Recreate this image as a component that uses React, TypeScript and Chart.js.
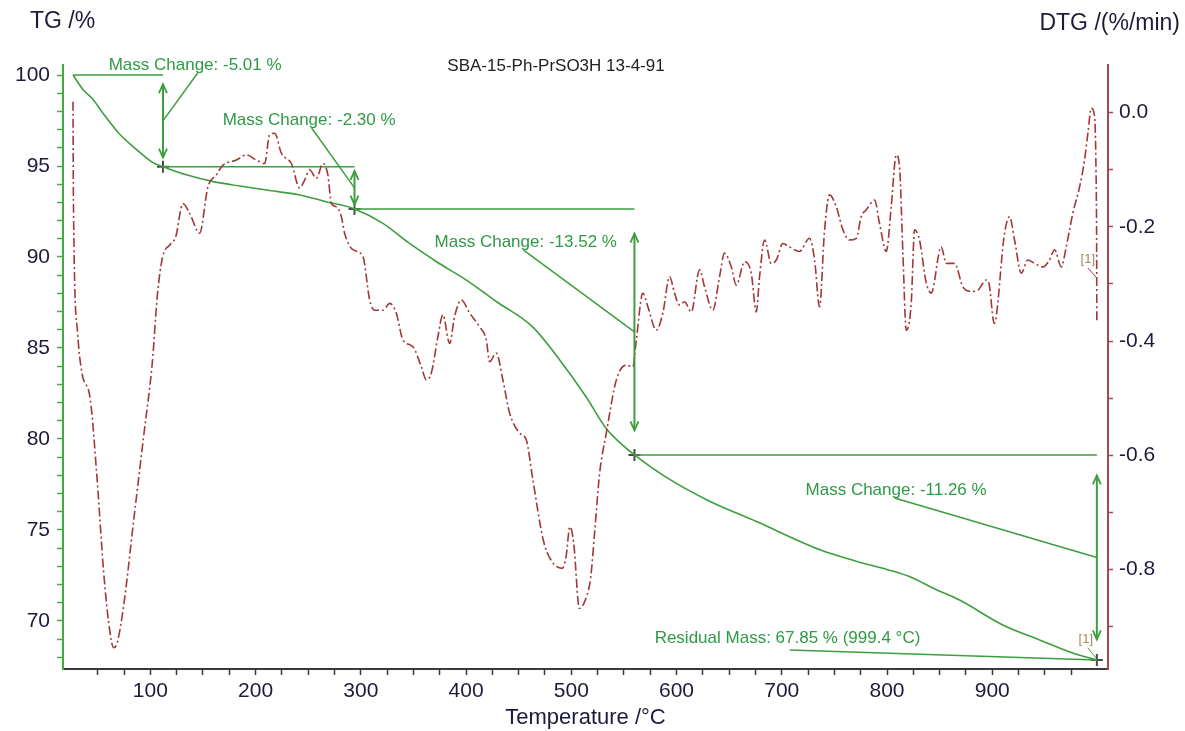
import React, { useEffect, useRef } from "react";
import { Chart, registerables } from "chart.js";

Chart.register(...registerables);

// ---------- data ----------
const tgTemp = [26.5, 36, 45, 55, 70, 87, 102, 112, 135, 160, 185, 210, 242, 267, 294, 321, 345, 372, 400, 429, 463, 489, 514, 533, 548, 560, 590, 629, 676, 737, 770, 805, 825, 844, 869, 910, 945, 977, 999.4];
const tgMass = [100, 99.2, 98.7, 97.9, 96.8, 95.9, 95.2, 94.96, 94.5, 94.14, 93.9, 93.68, 93.41, 93.04, 92.64, 91.85, 90.8, 89.74, 88.74, 87.54, 86.17, 84.34, 82.32, 80.59, 79.7, 79.12, 77.9, 76.65, 75.46, 73.9, 73.3, 72.75, 72.35, 71.8, 71.15, 69.78, 68.96, 68.23, 67.86];

const dtgTemp = [26.5, 26.9, 30.8, 34.9, 42.9, 49.3, 55.6, 60.4, 65.1, 68.4, 74.6, 84.1, 93.6, 101.9, 106.7, 111.5, 119.3, 124.0, 131.0, 137.3, 146.8, 154.7, 162.7, 169.0, 181.7, 191.2, 200.7, 208.6, 213.3, 218.1, 224.5, 234.0, 241.9, 246.6, 251.4, 257.7, 264.0, 268.7, 272.0, 276.7, 281.5, 284.6, 292.5, 302.0, 308.4, 313.1, 321.0, 327.4, 333.7, 340.0, 349.5, 357.5, 362.2, 367.0, 373.3, 378.0, 384.4, 389.1, 395.5, 403.4, 412.9, 419.2, 422.4, 428.7, 435.0, 441.4, 450.9, 457.2, 463.5, 473.3, 480.5, 491.4, 495.0, 498.7, 502.3, 507.7, 514.9, 518.5, 522.1, 526.9, 533.3, 542.8, 552.3, 558.5, 561.8, 568.0, 572.8, 580.8, 587.0, 593.4, 598.1, 602.9, 607.6, 614.0, 621.9, 626.6, 634.5, 640.9, 645.6, 652.0, 656.8, 664.7, 671.0, 675.8, 678.9, 683.7, 690.0, 694.8, 701.0, 707.4, 716.9, 726.4, 731.2, 735.9, 740.7, 745.4, 751.8, 758.1, 764.4, 770.8, 775.5, 780.3, 788.2, 792.9, 799.3, 804.0, 808.8, 811.9, 815.1, 818.3, 823.0, 826.2, 830.9, 837.3, 842.0, 851.5, 856.3, 864.2, 872.1, 880.0, 886.3, 894.3, 897.0, 901.9, 911.7, 916.5, 921.2, 927.6, 933.8, 940.2, 948.1, 954.4, 959.2, 965.6, 970.3, 976.6, 983.0, 987.7, 990.9, 994.1, 997.3, 998.6, 999.2, 999.4];
const dtgRate = [0.019, -0.153, -0.384, -0.455, -0.502, -0.639, -0.804, -0.893, -0.937, -0.929, -0.864, -0.715, -0.567, -0.437, -0.319, -0.254, -0.230, -0.218, -0.159, -0.176, -0.211, -0.130, -0.109, -0.092, -0.083, -0.074, -0.083, -0.089, -0.039, -0.036, -0.071, -0.089, -0.132, -0.118, -0.100, -0.115, -0.089, -0.109, -0.159, -0.165, -0.182, -0.211, -0.240, -0.252, -0.328, -0.346, -0.346, -0.334, -0.351, -0.398, -0.410, -0.445, -0.468, -0.456, -0.392, -0.354, -0.404, -0.357, -0.328, -0.351, -0.375, -0.398, -0.436, -0.421, -0.468, -0.526, -0.561, -0.573, -0.643, -0.748, -0.783, -0.798, -0.778, -0.725, -0.754, -0.868, -0.845, -0.813, -0.737, -0.632, -0.561, -0.468, -0.442, -0.445, -0.398, -0.316, -0.340, -0.381, -0.351, -0.287, -0.316, -0.337, -0.331, -0.349, -0.275, -0.305, -0.346, -0.287, -0.246, -0.270, -0.302, -0.261, -0.281, -0.349, -0.287, -0.223, -0.264, -0.258, -0.229, -0.235, -0.243, -0.220, -0.258, -0.340, -0.205, -0.144, -0.165, -0.205, -0.223, -0.220, -0.182, -0.170, -0.153, -0.194, -0.243, -0.165, -0.074, -0.095, -0.246, -0.381, -0.334, -0.205, -0.223, -0.298, -0.316, -0.235, -0.264, -0.264, -0.305, -0.313, -0.311, -0.293, -0.300, -0.369, -0.211, -0.182, -0.223, -0.281, -0.258, -0.264, -0.270, -0.258, -0.240, -0.270, -0.235, -0.176, -0.130, -0.083, -0.036, 0.008, -0.007, -0.100, -0.230, -0.368];

// mass-change steps (start, step ends)
const stepTemps = [26.5, 112, 294, 560, 999.4];
const stepLevels = [100, 94.96, 92.64, 79.12, 67.86];
const stepLabels = ["Mass Change: -5.01 %", "Mass Change: -2.30 %", "Mass Change: -13.52 %", "Mass Change: -11.26 %"];
const residualLabel = "Residual Mass: 67.85 % (999.4 °C)";
const sampleName = "SBA-15-Ph-PrSO3H 13-4-91";
const tgAxisTitle = "TG /%";
const dtgAxisTitle = "DTG /(%/min)";
const xAxisTitle = "Temperature /°C";

// label anchors (temperature, TG value) for the annotation texts
const labelAnchorT = [60.4, 168.7, 370.1, 722.6];
const labelAnchorM = [100.55, 97.53, 90.82, 77.2];
const residualAnchor = { t: 579.2, m: 69.07 };

const FONT = "'Liberation Sans', Arial, Helvetica, sans-serif";
const GREEN = "#3d9e3d";
const TEXT_GREEN = "#2f9a45";
const DTG_RED = "#a33636";
const DARK = "#1c1c3a";

export default function App() {
  const ref = useRef<HTMLCanvasElement>(null);

  useEffect(() => {
    const canvas = ref.current;
    if (!canvas) return;

    const annot = {
      id: "annot",
      afterDatasetsDraw(chart: any) {
        const ctx = chart.ctx;
        const xs = chart.scales.x;
        const ys = chart.scales.y;
        const y1s = chart.scales.y1;
        const px = (t: number) => xs.getPixelForValue(t);
        const py = (m: number) => ys.getPixelForValue(m);
        ctx.save();
        ctx.strokeStyle = GREEN;
        ctx.lineCap = "butt";
        for (let i = 1; i < stepTemps.length; i++) {
          const x = px(stepTemps[i]);
          const ya = py(stepLevels[i - 1]);
          const yb = py(stepLevels[i]);
          const len = yb - ya;
          const a = ya + 0.1 * len;
          const b = yb - 0.1 * len;
          ctx.lineWidth = 2;
          ctx.beginPath();
          ctx.moveTo(x, a);
          ctx.lineTo(x, b);
          ctx.stroke();
          // arrow heads
          ctx.lineWidth = 1.8;
          ctx.beginPath();
          ctx.moveTo(x - 4, a + 9);
          ctx.lineTo(x, a);
          ctx.lineTo(x + 4, a + 9);
          ctx.moveTo(x - 4, b - 9);
          ctx.lineTo(x, b);
          ctx.lineTo(x + 4, b - 9);
          ctx.stroke();
          // leader line
          const tx = px(labelAnchorT[i - 1]);
          const ty = py(labelAnchorM[i - 1]);
          ctx.lineWidth = 1.5;
          ctx.beginPath();
          ctx.moveTo(x, (ya + yb) / 2);
          ctx.lineTo(tx + 89, ty + 8);
          ctx.stroke();
          // text
          ctx.fillStyle = TEXT_GREEN;
          ctx.font = `17px ${FONT}`;
          ctx.textAlign = "left";
          ctx.textBaseline = "middle";
          ctx.fillText(stepLabels[i - 1], tx, ty);
        }
        // residual mass
        const rx = px(residualAnchor.t);
        const ry = py(residualAnchor.m);
        const ex = px(stepTemps[stepTemps.length - 1]);
        const ey = py(stepLevels[stepLevels.length - 1]);
        ctx.lineWidth = 1.5;
        ctx.beginPath();
        ctx.moveTo(rx + 135, ry + 12);
        ctx.lineTo(ex, ey);
        ctx.stroke();
        ctx.fillStyle = TEXT_GREEN;
        ctx.fillText(residualLabel, rx, ry);

        // [1] markers
        ctx.font = `13px ${FONT}`;
        ctx.fillStyle = "#a08a60";
        ctx.textAlign = "center";
        ctx.fillText("[1]", ex - 11, ey - 20);
        ctx.strokeStyle = GREEN;
        ctx.lineWidth = 1;
        ctx.beginPath();
        ctx.moveTo(ex - 9, ey - 12);
        ctx.lineTo(ex - 1, ey - 2);
        ctx.stroke();
        const dx = ex;
        const dy = y1s.getPixelForValue(-0.3);
        ctx.fillText("[1]", dx - 9, dy - 25);
        ctx.strokeStyle = DTG_RED;
        ctx.beginPath();
        ctx.moveTo(dx - 9, dy - 16);
        ctx.lineTo(dx, dy - 6);
        ctx.stroke();

        // titles
        const area = chart.chartArea;
        ctx.fillStyle = "#222";
        ctx.font = `17px ${FONT}`;
        ctx.textAlign = "center";
        ctx.textBaseline = "middle";
        ctx.fillText(sampleName, 556, area.top + 1);
        ctx.fillStyle = DARK;
        ctx.font = `23px ${FONT}`;
        ctx.textAlign = "left";
        ctx.fillText(tgAxisTitle, 30, 22);
        ctx.textAlign = "right";
        ctx.fillText(dtgAxisTitle, 1180, 24);
        ctx.restore();
      },
    };

    const tickHidden = (v: number) => v < stepTemps[0] || v > stepTemps[stepTemps.length - 1];

    const chart = new Chart(canvas, {
      type: "line",
      data: {
        datasets: [
          {
            label: "DTG",
            data: dtgTemp.map((t, i) => ({ x: t, y: dtgRate[i] })),
            yAxisID: "y1",
            borderColor: DTG_RED,
            borderWidth: 1.6,
            borderDash: [9, 3, 2, 3],
            pointRadius: 0,
            cubicInterpolationMode: "monotone",
          },
          {
            label: "TG",
            data: tgTemp.map((t, i) => ({ x: t, y: tgMass[i] })),
            yAxisID: "y",
            borderColor: GREEN,
            borderWidth: 1.6,
            pointRadius: 0,
            cubicInterpolationMode: "monotone",
          },
          ...stepTemps.slice(1).map((t, i) => ({
            label: "level" + i,
            data: [
              { x: stepTemps[i], y: stepLevels[i] },
              { x: t, y: stepLevels[i] },
            ],
            yAxisID: "y",
            borderColor: GREEN,
            borderWidth: 1.5,
            pointRadius: 0,
            tension: 0,
          })),
          {
            label: "marks",
            data: stepTemps.slice(1).map((t, i) => ({ x: t, y: stepLevels[i + 1] })),
            yAxisID: "y",
            showLine: false,
            pointStyle: "cross",
            pointRadius: 6,
            pointBorderWidth: 2,
            borderColor: "#4a4a4a",
            pointBorderColor: "#4a4a4a",
          },
        ],
      } as any,
      options: {
        responsive: false,
        animation: false,
        devicePixelRatio: 1,
        events: [],
        layout: { padding: { top: 65, left: 0, right: 0, bottom: 0 } },
        plugins: {
          legend: { display: false },
          tooltip: { enabled: false },
          title: { display: false },
        },
        scales: {
          x: {
            type: "linear",
            position: "bottom",
            min: 17,
            max: 1010,
            afterFit: (s: any) => {
              s.height = 62;
            },
            border: { color: "#3a3a3a", width: 2 },
            grid: {
              drawOnChartArea: false,
              drawTicks: true,
              tickLength: 6,
              tickWidth: 1.5,
              tickColor: (c: any) => (c.tick && tickHidden(c.tick.value) ? "rgba(0,0,0,0)" : "#3a3a3a"),
            },
            ticks: {
              stepSize: 25,
              includeBounds: false,
              autoSkip: false,
              maxRotation: 0,
              padding: 4,
              color: DARK,
              font: { family: FONT, size: 21 },
              callback: (v: any) => {
                const n = Math.round(Number(v));
                return n % 100 === 0 && !tickHidden(n) ? String(n) : "";
              },
            },
            title: {
              display: true,
              text: xAxisTitle,
              color: DARK,
              font: { family: FONT, size: 22 },
              padding: { top: 0, bottom: 0 },
            },
          },
          y: {
            type: "linear",
            position: "left",
            min: 67.36,
            max: 100.55,
            afterFit: (s: any) => {
              s.width = 63;
            },
            border: { color: "#45a845", width: 2 },
            grid: { drawOnChartArea: false, tickLength: 6, tickWidth: 1.5, tickColor: "#45a845" },
            ticks: {
              stepSize: 1,
              includeBounds: false,
              autoSkip: false,
              padding: 7,
              color: DARK,
              font: { family: FONT, size: 21 },
              callback: (v: any) => {
                const n = Math.round(Number(v));
                return n % 5 === 0 ? String(n) : "";
              },
            },
          },
          y1: {
            type: "linear",
            position: "right",
            min: -0.9743,
            max: 0.0835,
            afterFit: (s: any) => {
              s.width = 77;
            },
            border: { color: "#a84848", width: 2 },
            grid: { drawOnChartArea: false, tickLength: 5, tickWidth: 1.5, tickColor: "#a84848" },
            ticks: {
              stepSize: 0.1,
              includeBounds: false,
              autoSkip: false,
              padding: 6,
              color: DARK,
              font: { family: FONT, size: 21 },
              callback: (v: any) => {
                const n = Math.round(Number(v) * 10);
                return n % 2 === 0 ? (n / 10).toFixed(1) : "";
              },
            },
          },
        },
      } as any,
      plugins: [annot],
    });

    return () => chart.destroy();
  }, []);

  return (
    <div style={{ position: "absolute", left: 0, top: 0, width: 1185, height: 731, background: "#fff", overflow: "hidden" }}>
      <canvas ref={ref} width={1185} height={731} style={{ display: "block", width: 1185, height: 731 }} />
    </div>
  );
}
